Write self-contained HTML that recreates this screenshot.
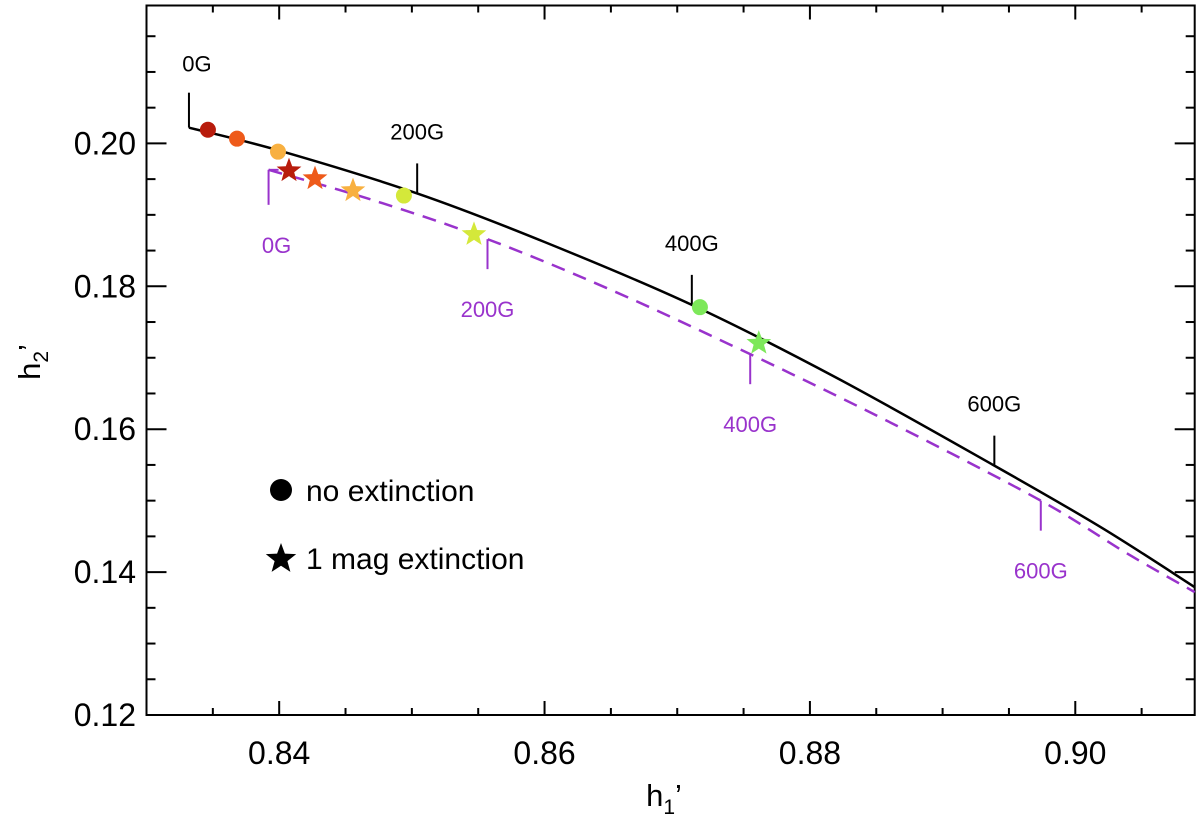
<!DOCTYPE html>
<html><head><meta charset="utf-8"><style>
html,body{margin:0;padding:0;background:#fff;}
svg{display:block;font-family:"Liberation Sans",sans-serif;}
</style></head><body>
<svg id="chart" width="1200" height="818" viewBox="0 0 1200 818"></svg>
<script>
const xTicks=[0.84,0.86,0.88,0.90];
const xTickLabels=["0.84","0.86","0.88","0.90"];
const yTicks=[0.12,0.14,0.16,0.18,0.20];
const yTickLabels=["0.12","0.14","0.16","0.18","0.20"];
const solidH1=[0.8332,0.8400,0.8504,0.8600,0.8711,0.8820,0.8939,0.9020,0.9090];
const solidH2=[0.2022,0.1990,0.1930,0.1862,0.1774,0.1672,0.1549,0.1462,0.1379];
const dashH1=[0.8392,0.8470,0.8557,0.8650,0.8755,0.8860,0.8974,0.9040,0.9090];
const dashH2=[0.1963,0.1921,0.1866,0.1795,0.1705,0.1610,0.1500,0.1425,0.1372];
const fieldLabels=["0G","200G","400G","600G"];
const solidFieldH1=[0.8332,0.8504,0.8711,0.8939];
const solidFieldH2=[0.2022,0.1930,0.1774,0.1549];
const dashFieldH1=[0.8392,0.8557,0.8755,0.8974];
const dashFieldH2=[0.1963,0.1866,0.1705,0.1500];
const circleH1=[0.83463,0.83682,0.83991,0.84940,0.87171];
const circleH2=[0.20191,0.20066,0.19884,0.19270,0.17708];
const starH1=[0.84074,0.84270,0.84556,0.85468,0.87615];
const starH2=[0.19619,0.19508,0.19340,0.18726,0.17205];
const pointColors=["#b81c0c","#ee5a1a","#f8b040","#d4e83a","#7de85a"];

const L=146.5,R=1194.7,T=5.5,B=715;
const X0=0.83,X1=0.909,Y0=0.12,Y1=0.2193;
const sx=v=>L+(v-X0)/(X1-X0)*(R-L);
const sy=v=>B-(v-Y0)/(Y1-Y0)*(B-T);
const NS="http://www.w3.org/2000/svg";
const svg=document.getElementById('chart');
function mk(tag,attrs,parent){const e=document.createElementNS(NS,tag);for(const k in attrs)e.setAttribute(k,attrs[k]);(parent||svg).appendChild(e);return e;}
function txt(s,x,y,size,fill,anchor){const e=mk('text',{x:x,y:y,'font-size':size,fill:fill,'text-anchor':anchor||'middle'});e.textContent=s;return e;}

const frame=mk('rect',{x:L,y:T,width:R-L,height:B-T,fill:'none',stroke:'#000','stroke-width':2});


for(let v=0.830;v<=0.909+1e-9;v+=0.005){
  const x=sx(v);const major=Math.abs(Math.round(v*1000)%20)<0.5;const len=major?14:7;
  const t=mk('line',{x1:x,x2:x,y1:B,y2:B-len,stroke:'#000','stroke-width':2});
  
  const t2=mk('line',{x1:x,x2:x,y1:T,y2:T+len,stroke:'#000','stroke-width':2});
  
}
xTicks.forEach((v,i)=>{const e=txt(xTickLabels[i],sx(v),764,32,'#000');
  });
for(let v=0.120;v<=0.2193;v+=0.005){
  const y=sy(v);const major=Math.abs(Math.round(v*1000)%20)<0.5;const len=major?20:9;
  const t=mk('line',{x1:L,x2:L+len,y1:y,y2:y,stroke:'#000','stroke-width':2});
  
  const t2=mk('line',{x1:R,x2:R-len,y1:y,y2:y,stroke:'#000','stroke-width':2});
  
}
yTicks.forEach((v,i)=>{const e=txt(yTickLabels[i],136,sy(v)+11,32,'#000','end');
  });
const xt=mk('text',{x:664,y:806,'font-size':31,'text-anchor':'middle'});
xt.innerHTML='h<tspan font-size="21" dy="8">1</tspan><tspan dy="-8">’</tspan>';

const yt=mk('text',{x:0,y:0,'font-size':31,'text-anchor':'middle',transform:'translate(40,362) rotate(-90)'});
yt.innerHTML='h<tspan font-size="21" dy="8">2</tspan><tspan dy="-8">’</tspan>';


function smoothPath(xs,ys){
  const p=xs.map((v,i)=>[sx(v),sy(ys[i])]);let d='M'+p[0][0]+','+p[0][1];
  for(let i=0;i<p.length-1;i++){const p0=p[Math.max(0,i-1)],p1=p[i],p2=p[i+1],p3=p[Math.min(p.length-1,i+2)];
    const c1=[p1[0]+(p2[0]-p0[0])/6,p1[1]+(p2[1]-p0[1])/6],c2=[p2[0]-(p3[0]-p1[0])/6,p2[1]-(p3[1]-p1[1])/6];
    d+=' C'+c1+' '+c2+' '+p2;}
  return d;
}
const sc=mk('path',{d:smoothPath(solidH1,solidH2),fill:'none',stroke:'#000','stroke-width':2.5});

const dc=mk('path',{d:smoothPath(dashH1,dashH2),fill:'none',stroke:'#9933cc','stroke-width':2.5,'stroke-dasharray':'14,9'});


fieldLabels.forEach((s,i)=>{
  const x=sx(solidFieldH1[i]),y=sy(solidFieldH2[i]);
  const ln=mk('line',{x1:x,x2:x,y1:y,y2:y-(i==0?35:30),stroke:'#000','stroke-width':2});
  
  const t=txt(s,i==0?x+8:x,y-(i==0?56:54),22,'#000');
  
  const xd=sx(dashFieldH1[i]),yd=sy(dashFieldH2[i]);
  const ld=mk('line',{x1:xd,x2:xd,y1:yd,y2:yd+(i==0?35:30),stroke:'#9933cc','stroke-width':2});
  
  if(i==0){const h=mk('line',{x1:xd,x2:xd+10,y1:yd,y2:yd,stroke:'#9933cc','stroke-width':2});
    }
  const td=txt(s,i==0?xd+8:xd,yd+(i==0?83:78),22,'#9933cc');
  
});

function starPts(cx,cy,r){let pts=[];for(let k=0;k<10;k++){const a=-Math.PI/2+k*Math.PI/5;const rr=k%2?r*0.42:r;pts.push((cx+rr*Math.cos(a)).toFixed(1)+','+(cy+rr*Math.sin(a)).toFixed(1));}return pts.join(' ');}
circleH1.forEach((v,i)=>{const c=mk('circle',{cx:sx(v),cy:sy(circleH2[i]),r:8,fill:pointColors[i]});
  });
starH1.forEach((v,i)=>{const s=mk('polygon',{points:starPts(sx(v),sy(starH2[i]),13),fill:pointColors[i]});
  });

const lc=mk('circle',{cx:281,cy:490,r:11,fill:'#000'});

const l1=txt('no extinction',306,501,30,'#000','start');

const ls=mk('polygon',{points:starPts(281,559,16),fill:'#000'});

const l2=txt('1 mag extinction',306,569,30,'#000','start');

</script>
</body></html>
